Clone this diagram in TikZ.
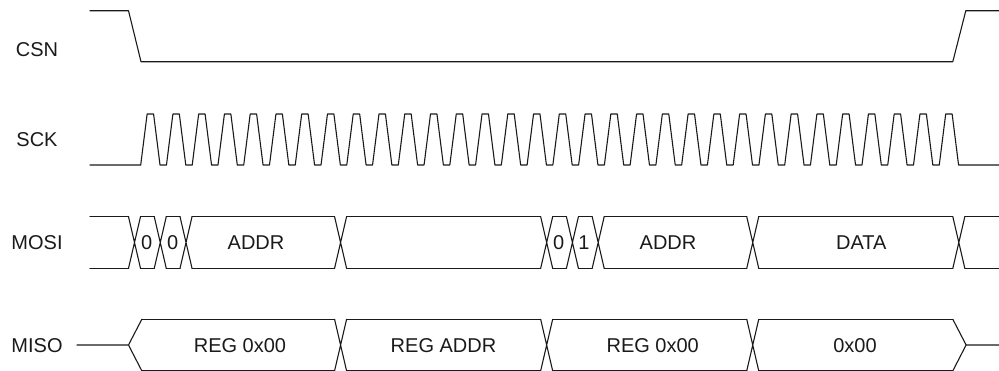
\documentclass[tikz,border=0pt]{standalone}
\usepackage{fontspec}
\setmainfont{Liberation Sans}
\usepackage{xcolor}
\usepackage{tikz}
\usetikzlibrary{calc}
\definecolor{colGray900}{HTML}{1A1A1A}
\tikzset{
  wave/.style={
    draw=colGray900, line width=1.1pt,
    line join=round, line cap=round
  },
  siglbl/.style={
    font=\fontsize{20}{24}\selectfont,
    text=colGray900, inner sep=0pt
  },
  buslbl/.style={siglbl}
}
% bit timing (px): first edge, bit period, crossing width
\newcommand{\tO}{128.5}
\newcommand{\bitP}{25.76}
\newcommand{\xw}{12}

\begin{document}
\begin{tikzpicture}[x=1pt, y=-1pt]
        \clip (0,0) rectangle (999,370);
        % signal names
        \node[siglbl] (csn)  at (37,50)    {CSN};
        \node[siglbl] (sck)  at (37,140)   {SCK};
        \node[siglbl] (mosi) at (37,243)   {MOSI};
        \node[siglbl] (miso) at (37,345.5) {MISO};
        % CSN
        \draw[wave] (90,10.7) -- (\tO,10.7) -- (141,61.7) -- (952.8,61.7) -- (965.8,10.7) -- (999,10.7);
        % SCK, 32 pulses
        \draw[wave] (90,165) -- (140.7,165)
          \foreach \k in {1,...,32}{ -- ++(6.44,-51) -- ++(6.44,0) -- ++(6.44,51) -- ++(6.44,0) }
          -- (999,165);
        % MOSI
        \draw[wave] (90,216.7) -- (\tO,216.7) (90,268.3) -- (\tO,268.3);
        \foreach \k in {0,1,2,8,16,17,18,24,32}{
          \pgfmathsetmacro\xk{\tO+\k*\bitP}
          \draw[wave] (\xk,216.7) -- ++(\xw,51.6) (\xk,268.3) -- ++(\xw,-51.6);
        }
        \foreach \a/\b in {0/1,1/2,2/8,8/16,16/17,17/18,18/24,24/32}{
          \pgfmathsetmacro\xa{\tO+\a*\bitP+\xw}
          \pgfmathsetmacro\xb{\tO+\b*\bitP}
          \draw[wave] (\xa,216.7) -- (\xb,216.7) (\xa,268.3) -- (\xb,268.3);
        }
        \pgfmathsetmacro\xe{\tO+32*\bitP+\xw}
        \draw[wave] (\xe,216.7) -- (999,216.7) (\xe,268.3) -- (999,268.3);
        \node[buslbl] (m0a)   at (146.7,242.5) {0};
        \node[buslbl] (m0b)   at (172.7,242.5) {0};
        \node[buslbl] (maddr) at (256,242.5)   {ADDR};
        \node[buslbl] (m0c)   at (558.7,242.5) {0};
        \node[buslbl] (m1)    at (584,242.5)   {1};
        \node[buslbl] (waddr) at (668,242.5)   {ADDR};
        \node[buslbl] (wdata) at (861.3,242.5) {DATA};
        % MISO
        \draw[wave] (77,345) -- (\tO,345) -- (141.8,319.3) (\tO,345) -- (141.8,370.8);
        \foreach \k in {8,16,24}{
          \pgfmathsetmacro\xk{\tO+\k*\bitP}
          \draw[wave] (\xk,319.3) -- ++(\xw,51.5) (\xk,370.8) -- ++(\xw,-51.5);
        }
        \foreach \a/\b/\o in {0/8/13.3,8/16/12,16/24/12,24/32/12}{
          \pgfmathsetmacro\xa{\tO+\a*\bitP+\o}
          \pgfmathsetmacro\xb{\tO+\b*\bitP}
          \draw[wave] (\xa,319.3) -- (\xb,319.3) (\xa,370.8) -- (\xb,370.8);
        }
        \pgfmathsetmacro\xz{\tO+32*\bitP}
        \draw[wave] (\xz,319.3) -- ++(13.3,25.7) -- (\xz,370.8) ($(\xz,345)+(13.3,0)$) -- (999,345);
        \node[buslbl] (rreg)  at (240,345.5)   {REG 0x00};
        \node[buslbl] (raddr) at (443.5,345.5) {REG ADDR};
        \node[buslbl] (rreg2) at (652.7,345.5) {REG 0x00};
        \node[buslbl] (rdata) at (855,345.5)   {0x00};
      \end{tikzpicture}
\end{document}
